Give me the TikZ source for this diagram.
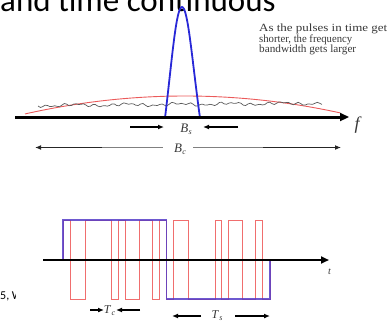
\documentclass[tikz,border=0pt]{standalone}
\usepackage{fontspec}
\setmainfont{Liberation Serif}
\newfontfamily\carl{Carlito}
\usetikzlibrary{arrows.meta}
\definecolor{pulseblue}{RGB}{40,40,215}
\definecolor{sigblue}{RGB}{85,60,200}
\definecolor{chipred}{RGB}{240,110,110}
\definecolor{archred}{RGB}{235,90,90}
\definecolor{noisegray}{RGB}{90,90,90}
\definecolor{txtgray}{RGB}{55,55,55}
\newcommand\fitw[2]{\resizebox{#1}{\height}{#2}}
\newcommand\lab[2]{\textit{#1}\kern0.3pt\raisebox{-0.4ex}{\fontsize{8}{8}\selectfont\textit{#2}}}
\begin{document}
\begin{tikzpicture}[x=1pt,y=-1pt,
  bigaxis/.style={line width=3pt,-{Triangle[length=9pt,width=8pt]}},
  smallaxis/.style={line width=2.4pt,-{Triangle[length=8pt,width=7pt]}},
  dimarrow/.style={line width=1.3pt,-{Latex[length=6pt,width=5pt]}},
  thinpart/.style={line width=0.7pt,gray},
  thickpart/.style={line width=1.4pt,black!85},
  notetext/.style={anchor=base west,inner sep=0pt,text=txtgray,font=\fontsize{11}{11}\selectfont},
  labeltext/.style={inner sep=0pt,text=txtgray,font=\fontsize{13}{13}\selectfont}]
\useasboundingbox (0,0) rectangle (387,326);
\clip (0,0) rectangle (387,326);

% cropped title
\node[anchor=base west,inner sep=0pt,font=\carl\fontsize{33}{33}\selectfont] (title) at (0,12) {and time continuous};

% note text
\node[notetext] (n1) at (259,32) {\fitw{128pt}{As the pulses in time get}};
\node[notetext] (n2) at (259,42.2) {\fitw{93pt}{shorter, the frequency}};
\node[notetext] (n3) at (259,52.5) {\fitw{97pt}{bandwidth gets larger}};

% ---------- spectrum ----------
\draw[archred,line width=0.9pt] plot[domain=25:340,samples=60] (\x,{96+17.5*((\x-185)/158)^2});
\draw[noisegray,line width=0.7pt] plot[domain=0:284,samples=120]
  ({38+\x},{105.5-0.008*\x+0.9*sin(\x*37)+0.7*sin(\x*23+30)+0.9*sin(\x*7+10)});
\draw[pulseblue,line width=1.8pt] (165,118) .. controls (172,60) and (176,7) .. (182,7)
  .. controls (188,7) and (192,60) .. (200,118);

\coordinate (fstart) at (15,117);
\coordinate (fend) at (349,117);
\draw[bigaxis] (fstart) -- (fend);
\node[inner sep=0pt,font=\fontsize{18}{18}\selectfont\itshape,text=txtgray] (flab) at (357,125) {f};

% B_s
\node[labeltext] (bs) at (186,129) {\lab{B}{s}};
\coordinate (bsl) at (130,127);
\coordinate (bslh) at (164,127);
\coordinate (bsr) at (238,127);
\coordinate (bsrh) at (203,127);
\draw[dimarrow] (bsl) -- (bslh);
\draw[dimarrow] (bsr) -- (bsrh);

% B_c
\node[labeltext] (bc) at (180,149) {\lab{B}{c}};
\coordinate (bcl) at (35,147.5);
\coordinate (bclm) at (102,147.5);
\coordinate (bcli) at (163,147.5);
\coordinate (bcri) at (193,147.5);
\coordinate (bcrm) at (263,147.5);
\coordinate (bcr) at (341,147.5);
\draw[thinpart] (bclm) -- (bcli);
\draw[thinpart] (bcri) -- (bcrm);
\draw[thickpart,-{Latex[length=6pt,width=5pt]}] (bclm) -- (bcl);
\draw[thickpart,-{Latex[length=6pt,width=5pt]}] (bcrm) -- (bcr);

% ---------- time signals ----------
\draw[chipred,line width=0.9pt] (63,260) -- (63,220) -- (70.7,220) -- (70.7,299) -- (85,299) -- (85,220)
  -- (111.7,220) -- (111.7,299) -- (118.3,299) -- (118.3,220) -- (125,220) -- (125,299)
  -- (139.3,299) -- (139.3,220) -- (152.7,220) -- (152.7,299) -- (159.3,299) -- (159.3,220)
  -- (166.7,220) -- (166.7,299) -- (173.3,299) -- (173.3,220) -- (188.3,220) -- (188.3,299)
  -- (215,299) -- (215,220) -- (221.7,220) -- (221.7,299) -- (228.3,299) -- (228.3,220)
  -- (242.3,220) -- (242.3,299) -- (255.7,299) -- (255.7,220) -- (262.3,220) -- (262.3,299)
  -- (270,299) -- (270,260);
\draw[sigblue,line width=1.2pt,opacity=0.85] (63,260) -- (63,220) -- (166.7,220) -- (166.7,299) -- (270,299) -- (270,260);

\coordinate (tstart) at (43,260);
\coordinate (tend) at (329,260);
\draw[smallaxis] (tstart) -- (tend);
\node[inner sep=0pt,font=\fontsize{10}{10}\selectfont\itshape,text=txtgray] (tlab) at (329.5,271.5) {t};

% T_c
\node[labeltext,font=\fontsize{12}{12}\selectfont] (tc) at (109.5,311) {\lab{T}{c}};
\coordinate (tcl) at (90,310);
\coordinate (tclh) at (104,310);
\coordinate (tcr) at (140,310);
\coordinate (tcrh) at (116,310);
\draw[dimarrow] (tcl) -- (tclh);
\draw[dimarrow] (tcr) -- (tcrh);

% T_s
\node[labeltext,font=\fontsize{12}{12}\selectfont] (ts) at (217,316) {\lab{T}{s}};
\coordinate (tsl) at (201,316);
\coordinate (tslh) at (172,316);
\coordinate (tsr) at (235,316);
\coordinate (tsrh) at (270,316);
\draw[dimarrow] (tsl) -- (tslh);
\draw[dimarrow] (tsr) -- (tsrh);

% cropped side text
\begin{scope}
  \clip (0,285) rectangle (15,305);
  \node[anchor=base west,inner sep=0pt,font=\carl\fontsize{12}{12}\selectfont] (side) at (0,299) {5, W};
\end{scope}
\end{tikzpicture}
\end{document}
